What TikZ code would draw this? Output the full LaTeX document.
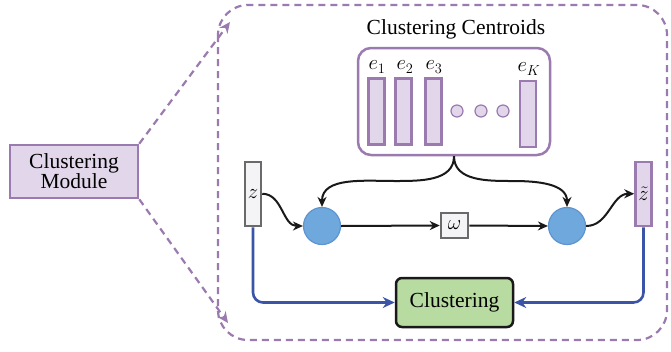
\documentclass[tikz,border=0pt]{standalone}
\usepackage{fontspec}
\setmainfont{Liberation Serif}
\usetikzlibrary{arrows.meta}
\definecolor{purpline}{HTML}{9B7AB0}
\definecolor{purpfill}{HTML}{E2D6EA}
\definecolor{grayline}{HTML}{6A6A6A}
\definecolor{grayfill}{HTML}{F4F4F6}
\definecolor{nodeblue}{HTML}{6FA8DC}
\definecolor{nodeblueline}{HTML}{5E94CF}
\definecolor{linkblue}{HTML}{3A55A8}
\definecolor{clgreen}{HTML}{B7DBA0}
\tikzset{
  lbl/.style={font=\fontsize{21.5}{24}\selectfont},
  mlbl/.style={font=\fontsize{22}{24}\selectfont},
  purpbox/.style={draw=purpline, fill=purpfill, line width=2.5pt, inner sep=0pt},
  bar/.style={purpbox, minimum width=16pt, minimum height=66pt},
  zbar/.style={draw=grayline, fill=grayfill, line width=2.5pt, inner sep=0pt, minimum width=16pt,
               minimum height=64pt, font=\fontsize{20}{22}\selectfont},
  ztbar/.style={purpbox, minimum width=16pt, minimum height=64pt, font=\fontsize{20}{22}\selectfont},
  dotc/.style={circle, draw=purpline, fill=purpfill, line width=1.2pt, minimum size=12pt, inner sep=0pt},
  bigc/.style={circle, draw=nodeblueline, fill=nodeblue, line width=1.2pt, minimum size=37pt, inner sep=0pt},
  flow/.style={line width=2pt, draw=black!90, -{Stealth[length=10pt,width=9pt]}},
  bflow/.style={line width=2.6pt, draw=linkblue, rounded corners=10pt, -{Stealth[length=12pt,width=11pt]}},
  dflow/.style={line width=2.2pt, draw=purpline, dash pattern=on 7pt off 5pt, -{Stealth[length=11pt,width=10pt]}},
}
\begin{document}
\begin{tikzpicture}[x=1pt,y=-1pt]
\useasboundingbox (0,0) rectangle (671,351);

% dashed frame of the module
\draw[line width=2.2pt, draw=purpline, dash pattern=on 7pt off 5pt, rounded corners=30pt]
  (218,5) rectangle (667,340);

% module label on the left
\node[purpbox, minimum width=128pt, minimum height=53pt, align=center, lbl] (mod) at (74,171.5)
  {Clustering\\[-4pt]Module};
\coordinate (topc) at (230,22);
\coordinate (botc) at (228,323);
\draw[dflow] (mod.north east) -- (topc);
\draw[dflow] (mod.south east) -- (botc);

% centroid set
\node[lbl] (ctitle) at (456,29) {Clustering Centroids};
\node[draw=purpline, line width=2.5pt, fill=white, rounded corners=13pt,
      minimum width=192pt, minimum height=107pt] (cent) at (454,101.5) {};
\node[bar] (e1) at (376.5,111.5) {};
\node[bar] (e2) at (403.5,111.5) {};
\node[bar] (e3) at (433.5,111.5) {};
\node[bar] (eK) at (528,114) {};
\node[mlbl] (l1) at (377,67) {$e_1$};
\node[mlbl] (l2) at (405,67) {$e_2$};
\node[mlbl] (l3) at (434,67) {$e_3$};
\node[mlbl] (lK) at (529,69) {$e_K$};
\node[dotc] (d1) at (457,111) {};
\node[dotc] (d2) at (481,111) {};
\node[dotc] (d3) at (503,111) {};

% embeddings
\node[zbar] (z) at (253,194) {$z$};
\node[ztbar] (zt) at (643.5,194) {$\tilde z$};

% quantisation path
\node[bigc] (c1) at (322,226) {};
\node[bigc] (c2) at (567,226) {};
\node[draw=grayline, fill=grayfill, line width=2.5pt, minimum width=27pt, minimum height=25pt,
      inner sep=0pt, font=\fontsize{20}{22}\selectfont] (w) at (454.5,225.5) {$\omega$};

\draw[flow] (cent.south) to[out=-90,in=0] (395,181) to[out=180,in=90] (c1.north);
\draw[flow] (cent.south) to[out=-90,in=180] (513,181) to[out=0,in=90] (c2.north);
\draw[flow] ([yshift=-33pt]z.north east) to[out=0,in=180] (c1.west);
\draw[flow] (c1.east) -- (w.west);
\draw[flow] (w.east) -- (c2.west);
\draw[flow] (c2.east) to[out=0,in=180] ([yshift=-33pt]zt.north west);

% clustering head
\node[draw=black!90, fill=clgreen, line width=2.5pt, rounded corners=6pt,
      minimum width=117pt, minimum height=49pt, lbl] (cl) at (454.5,302.5) {Clustering};
\draw[bflow] (z.south) |- (cl.west);
\draw[bflow] (zt.south) |- (cl.east);
\end{tikzpicture}
\end{document}
